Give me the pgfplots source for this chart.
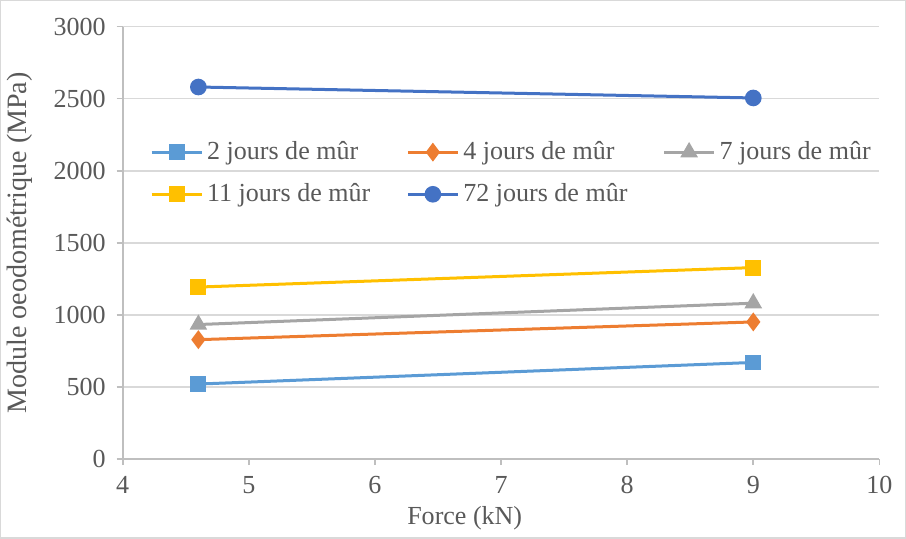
\documentclass[border=0pt]{standalone}
\usepackage{pgfplots}
\pgfplotsset{compat=1.18}
\usepackage{fontspec}
\setmainfont{Liberation Serif}
\usetikzlibrary{calc}
\definecolor{c1}{HTML}{5B9BD5}
\definecolor{c2}{HTML}{ED7D31}
\definecolor{c3}{HTML}{A5A5A5}
\definecolor{c4}{HTML}{FFC000}
\definecolor{c5}{HTML}{4472C4}
\definecolor{gridc}{HTML}{D9D9D9}
\definecolor{axc}{HTML}{BFBFBF}
\definecolor{txt}{HTML}{595959}
\newcommand{\lt}[1]{\makebox[99.5pt][l]{#1}}
\begin{document}
\begin{tikzpicture}
\begin{axis}[
  scale only axis,
  width=378pt, height=216pt,
  xmin=4, xmax=10, ymin=0, ymax=3000,
  xtick={4,5,...,10}, ytick={0,500,...,3000},
  axis x line*=bottom, axis y line*=left,
  axis line style={axc, line width=0.8pt, -},
  tick align=outside, major tick length=3pt,
  tick style={axc, line width=0.8pt},
  ymajorgrids, grid style={gridc, line width=0.8pt},
  /pgf/number format/assume math mode=true,
  /pgf/number format/1000 sep={},
  ticklabel style={font=\fontsize{13}{15}\selectfont, text=txt},
  xticklabel style={yshift=-2pt},
  yticklabel style={xshift=-2pt},
  label style={font=\fontsize{13}{15}\selectfont, text=txt},
  xlabel={Force (kN)},
  ylabel={Module oeodométrique (MPa)},
  xlabel style={at={(axis description cs:0.452,-0.137)}, anchor=center},
  ylabel style={at={(axis description cs:-0.136,0.5)}, anchor=center, font=\fontsize{14}{16}\selectfont},
  legend columns=3,
  legend cell align=left,
  legend image code/.code={\draw[mark repeat=2,mark phase=2,#1] plot coordinates {(0pt,0pt)(12.5pt,0pt)(25pt,0pt)};},
  legend style={draw=none, fill=none, at={(rel axis cs:0.0357,0.735)}, anchor=north west,
    font=\fontsize{13}{15}\selectfont, text=txt, inner sep=0pt,
    nodes={inner sep=0pt},
    /tikz/every odd column/.append style={column sep=2pt},
    row sep=10.5pt},
  every axis plot/.append style={line width=1.5pt},
]
\addplot[c1, mark=square*, mark size=3.2pt, mark options={solid}] coordinates {(4.6,520) (9,670)};
\addlegendentry{\lt{2 jours de mûr}}
\addplot[c2, mark=diamond*, mark size=3.5pt] coordinates {(4.6,828) (9,951)};
\addlegendentry{\lt{4 jours de mûr}}
\addplot[c3, mark=triangle*, mark size=3.6pt] coordinates {(4.6,933) (9,1081)};
\addlegendentry{7 jours de mûr}
\addplot[c4, mark=square*, mark size=3.2pt] coordinates {(4.6,1193) (9,1328)};
\addlegendentry{\lt{11 jours de mûr}}
\addplot[c5, mark=*, mark size=3.4pt] coordinates {(4.6,2581) (9,2505)};
\addlegendentry{\lt{72 jours de mûr}}
\end{axis}
\pgfresetboundingbox
\draw[gridc, line width=0.6pt] ($(current axis.south west)+(-61pt,-39.5pt)$) rectangle ($(current axis.north east)+(13pt,13pt)$);
\end{tikzpicture}
\end{document}
